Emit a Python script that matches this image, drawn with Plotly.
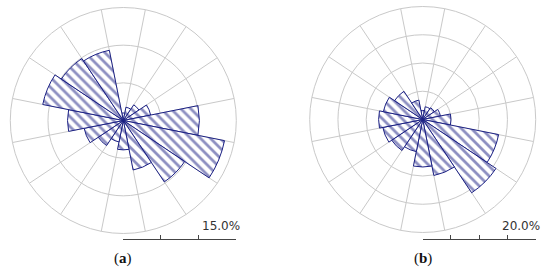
import plotly.graph_objects as go

# wind rose data: % frequency per direction sector (16 sectors)
directions = ["N", "NNE", "NE", "ENE", "E", "ESE", "SE", "SSE",
              "S", "SSW", "SW", "WSW", "W", "WNW", "NW", "NNW"]
freq_a = [1.0, 1.8, 2.5, 3.7, 10.1, 13.7, 9.8, 6.7, 3.9, 2.9, 4.0, 5.3, 7.4, 10.9, 9.9, 9.5]
freq_b = [1.6, 2.3, 2.5, 3.2, 5.0, 13.7, 15.6, 10.1, 8.4, 5.8, 6.6, 7.2, 7.8, 7.1, 6.0, 3.5]

rings_a = [5, 10, 15]
rings_b = [5, 10, 15, 20]
scale_label_a = "15.0%"
scale_label_b = "20.0%"
panel_labels = ["(<b>a</b>)", "(<b>b</b>)"]

sector = 360 / len(directions)
theta = [i * sector for i in range(len(directions))]
boundaries = [sector / 2 + i * sector for i in range(len(directions))]

navy = "#1b2083"
grid = "#c9c9c9"

W, H = 550, 271
R = 113  # px radius of each rose
centers = [(123.3, 120.5), (422.7, 119.5)]  # px from top-left


def polar_domain(cx, cy):
    cyb = H - cy
    return dict(x=[(cx - R) / W, (cx + R) / W],
                y=[max(0, (cyb - R) / H), min(1, (cyb + R) / H)])


def rose(freq):
    return go.Barpolar(
        r=freq, theta=theta, width=sector,
        marker=dict(color="white",
                    line=dict(color=navy, width=1),
                    pattern=dict(shape="\\", fgcolor=navy, bgcolor="white",
                                 size=7, solidity=0.4)),
        hoverinfo="skip", showlegend=False,
    )


def polar_layout(cx, cy, rings):
    return dict(
        domain=polar_domain(cx, cy),
        bgcolor="white",
        angularaxis=dict(rotation=90, direction="clockwise",
                         tickmode="array", tickvals=boundaries,
                         showticklabels=False, ticks="",
                         gridcolor=grid, gridwidth=1,
                         showline=True, linecolor=grid, linewidth=1),
        radialaxis=dict(range=[0, rings[-1]], tickmode="array", tickvals=rings,
                        showticklabels=False, ticks="", showline=False,
                        gridcolor=grid, gridwidth=1),
    )


fig = go.Figure()
t1 = rose(freq_a)
t1.subplot = "polar"
t2 = rose(freq_b)
t2.subplot = "polar2"
fig.add_trace(t1)
fig.add_trace(t2)

# scale bars drawn as cartesian axes from centre to rim
fig.add_trace(go.Scatter(x=[0, rings_a[-1]], y=[0, 0], xaxis="x", yaxis="y",
                         mode="lines", line=dict(width=0), hoverinfo="skip", showlegend=False))
fig.add_trace(go.Scatter(x=[0, rings_b[-1]], y=[0, 0], xaxis="x2", yaxis="y",
                         mode="lines", line=dict(width=0), hoverinfo="skip", showlegend=False))

bar_y = (H - 239) / H


def scale_axis(cx, rings, anchor):
    return dict(domain=[cx / W, (cx + R) / W], range=[0, rings[-1]],
                tickmode="array", tickvals=[0] + rings, ticks="inside", ticklen=4,
                tickcolor="#444", tickwidth=1, showticklabels=False,
                showline=True, linecolor="#444", linewidth=1,
                showgrid=False, zeroline=False, anchor=anchor, fixedrange=True)


fig.update_layout(
    width=W, height=H,
    margin=dict(l=0, r=0, t=0, b=0),
    paper_bgcolor="white", plot_bgcolor="rgba(0,0,0,0)",
    polar=polar_layout(*centers[0], rings_a),
    polar2=polar_layout(*centers[1], rings_b),
    xaxis=scale_axis(centers[0][0], rings_a, "y"),
    xaxis2=scale_axis(centers[1][0], rings_b, "y"),
    yaxis=dict(domain=[bar_y, bar_y + 0.05], range=[0, 1], visible=False, fixedrange=True),
    showlegend=False,
)

label_font = dict(family="DejaVu Sans", size=12, color="#333333")
for (cx, cy), lab in zip(centers, [scale_label_a, scale_label_b]):
    fig.add_annotation(x=(cx + R + 6) / W, y=(H - 226) / H, xref="paper", yref="paper",
                       text=lab, showarrow=False, xanchor="right", yanchor="middle",
                       font=label_font)

for (cx, cy), lab in zip(centers, panel_labels):
    fig.add_annotation(x=cx / W, y=(H - 258) / H, xref="paper", yref="paper",
                       text=lab, showarrow=False, xanchor="center", yanchor="middle",
                       font=dict(family="Liberation Serif", size=15, color="#111111"))

# drop the default 8px body margin so the figure sits flush in the window
fig.write_html("out.html", config={"displayModeBar": False},
               post_script="document.body.style.margin='0px';")
